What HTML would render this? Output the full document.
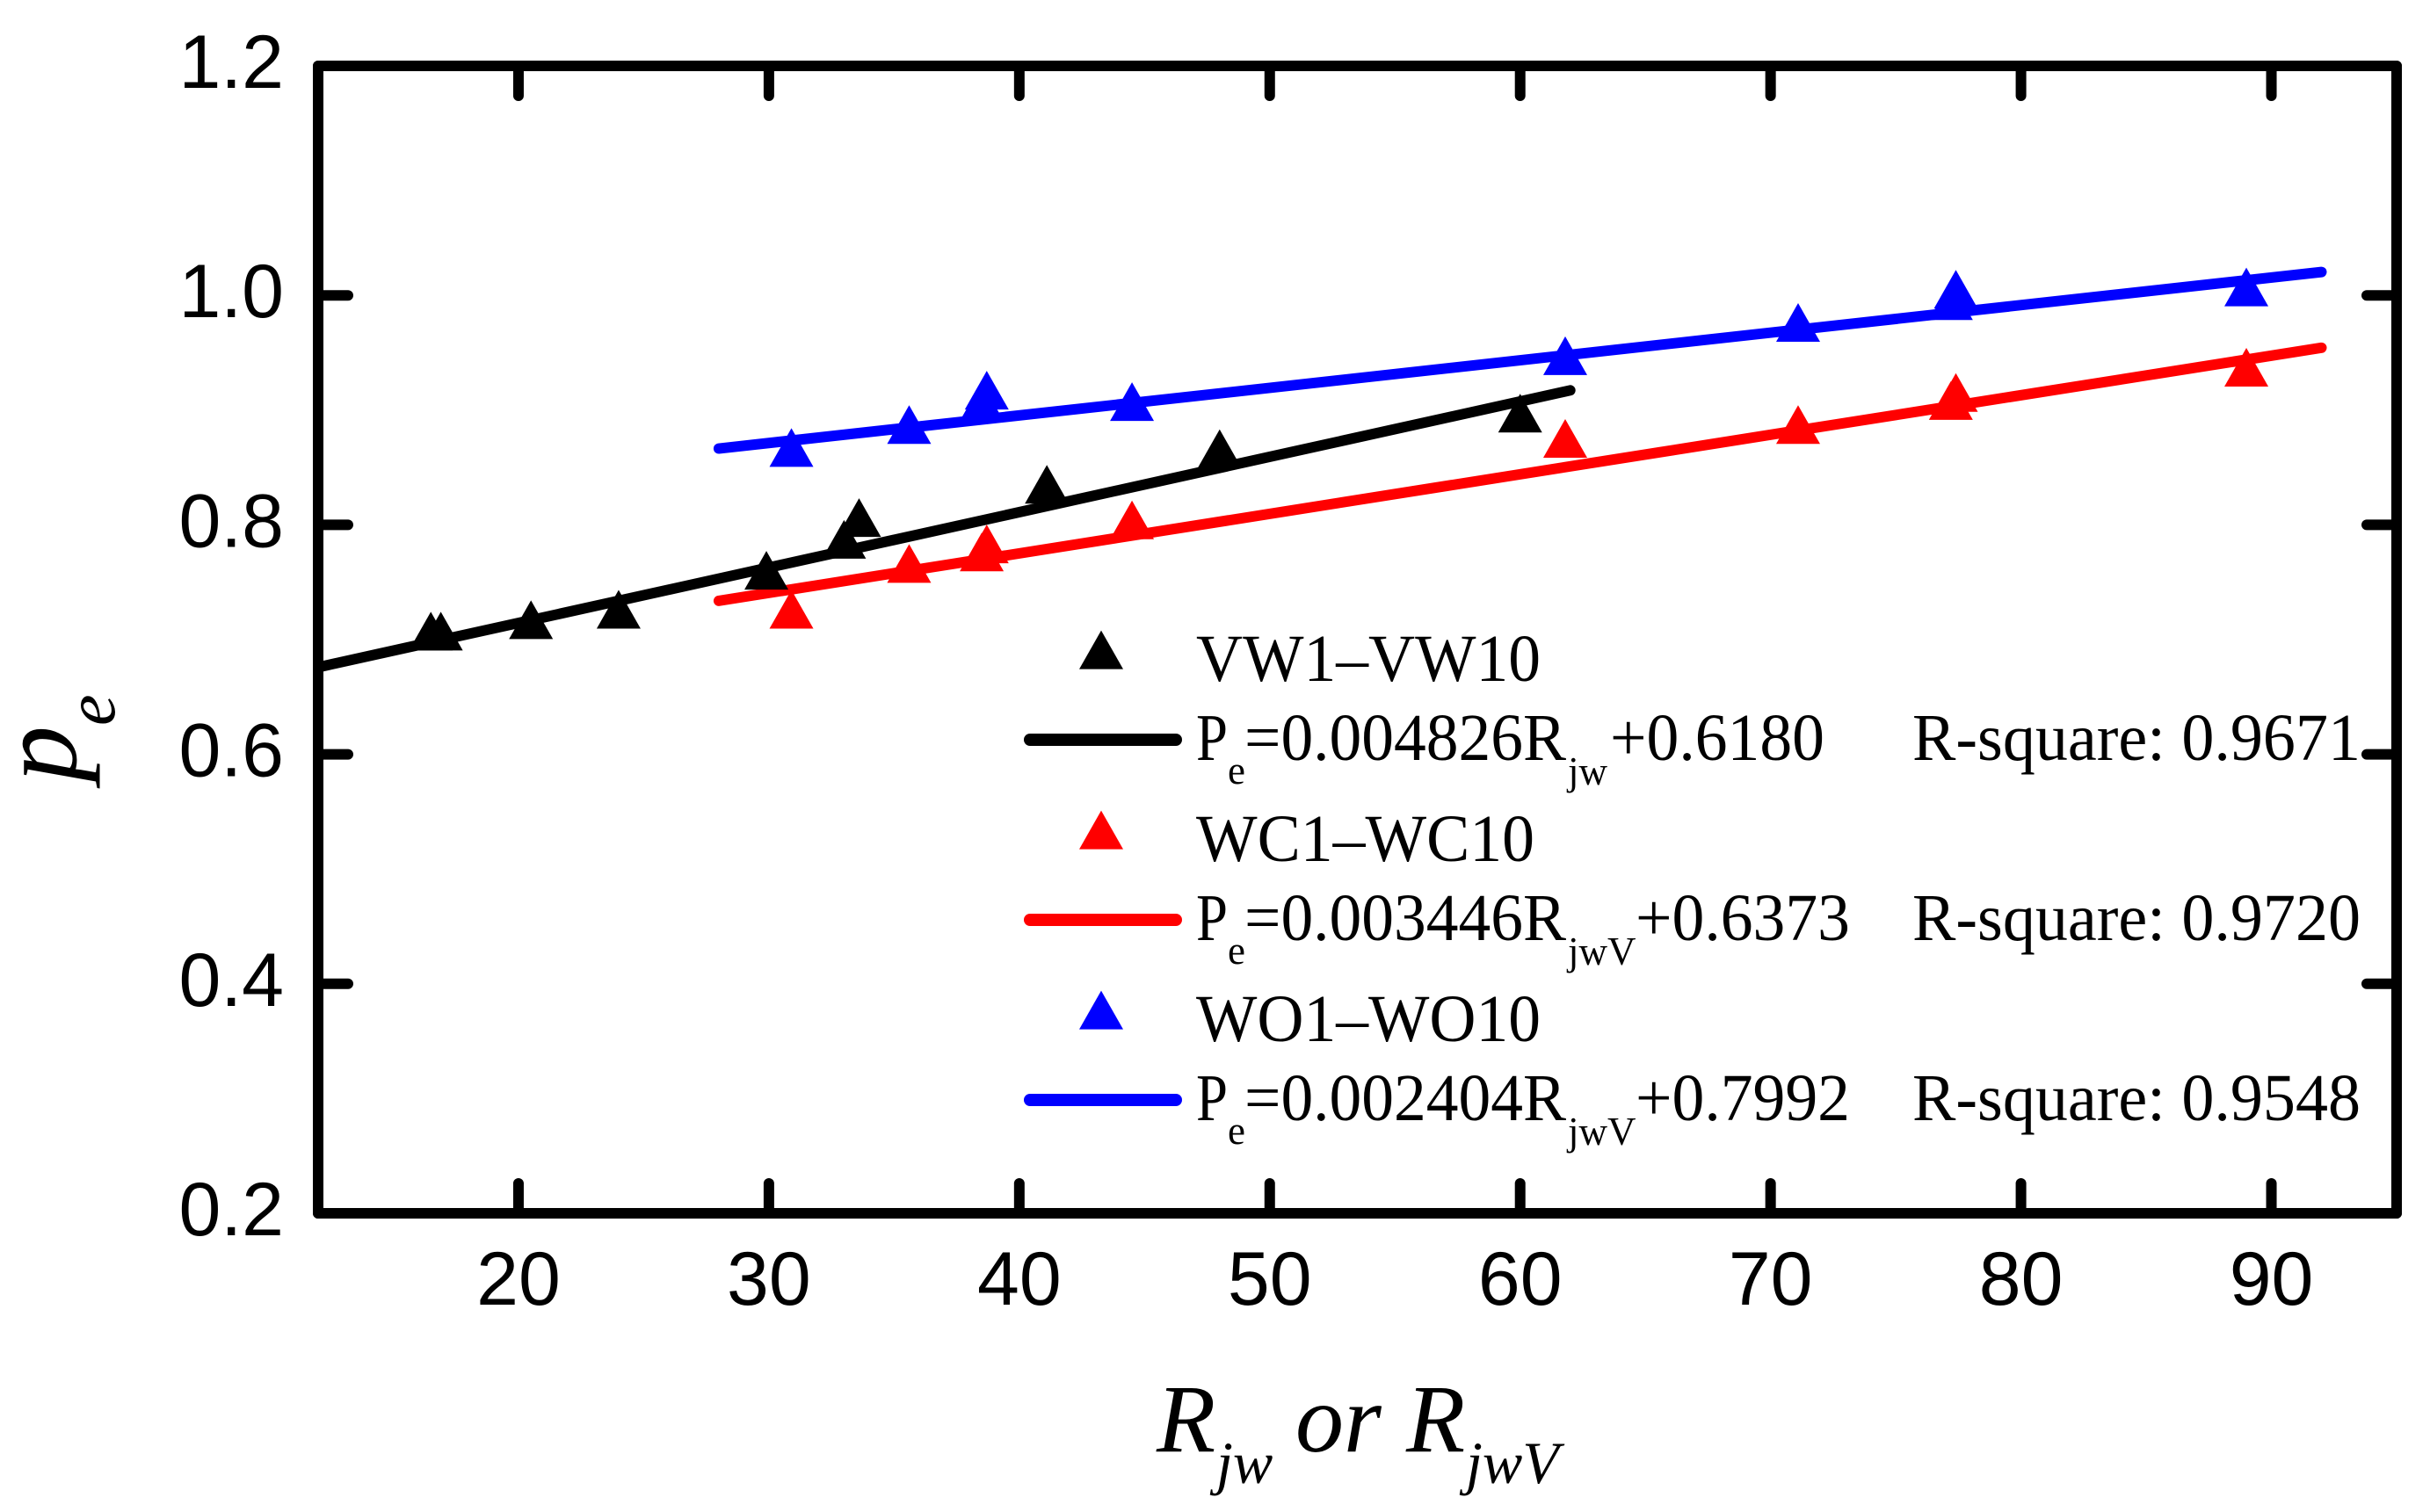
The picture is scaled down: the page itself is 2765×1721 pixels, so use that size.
<!DOCTYPE html>
<html><head><meta charset="utf-8"><style>
html,body{margin:0;padding:0;background:#fff;}
svg{display:block;}
</style></head><body>
<svg id="chart" width="2765" height="1721" viewBox="0 0 2765 1721" xmlns="http://www.w3.org/2000/svg">
<g id="marks"></g>
<rect x="362" y="75" width="2365" height="1306" fill="none" stroke="#000" stroke-width="12" stroke-linejoin="round"/>
<g id="ticks"></g>
<text transform="translate(86,890) rotate(-90)" font-family="Liberation Serif, serif" font-style="italic" font-size="128">p<tspan font-size="80" dy="44">e</tspan></text>
<text font-family="Liberation Serif, serif" font-style="italic" font-size="110" y="1652"><tspan x="1316">R</tspan><tspan font-size="68" x="1384" y="1688">jw</tspan><tspan x="1474" y="1652">or</tspan><tspan x="1600" y="1652">R</tspan><tspan font-size="68" x="1668" y="1688">jwV</tspan></text>
<g id="legend" font-family="Liberation Serif, serif" fill="#000"></g>
</svg>
<script>
const xTicks = [20, 30, 40, 50, 60, 70, 80, 90];
const yTicks = [0.2, 0.4, 0.6, 0.8, 1.0, 1.2];
const yTickLabels = ["0.2", "0.4", "0.6", "0.8", "1.0", "1.2"];
const vwX = [16.5, 16.9, 20.5, 24.0, 29.9, 33.0, 33.6, 41.1, 48.0, 60.0];
const vwY = [0.704, 0.704, 0.714, 0.723, 0.757, 0.784, 0.803, 0.832, 0.863, 0.894];
const wcX = [30.9, 35.6, 38.5, 38.7, 44.5, 61.8, 71.1, 77.2, 77.4, 89.0];
const wcY = [0.723, 0.763, 0.773, 0.780, 0.801, 0.872, 0.884, 0.905, 0.912, 0.934];
const woX = [30.9, 35.6, 38.5, 38.7, 44.5, 61.8, 71.1, 77.2, 77.4, 89.0];
const woY = [0.864, 0.884, 0.904, 0.914, 0.904, 0.944, 0.973, 0.992, 1.002, 1.004];
const fitSlopes = [0.004826, 0.003446, 0.002404];
const fitIntercepts = [0.6180, 0.6373, 0.7992];
const fitStart = [12, 28, 28];
const fitEnd = [62, 92, 92];
const seriesColors = ["#000000", "#ff0000", "#0000ff"];
const seriesNames = ["VW1\u2013VW10", "WC1\u2013WC10", "WO1\u2013WO10"];
const eqCoef = ["=0.004826R", "=0.003446R", "=0.002404R"];
const eqSub = ["jw", "jwV", "jwV"];
const eqConst = ["+0.6180", "+0.6373", "+0.7992"];
const rSquare = ["R-square: 0.9671", "R-square: 0.9720", "R-square: 0.9548"];

const NS = "http://www.w3.org/2000/svg";
const X0 = 362, X1 = 2727, Y0 = 1381, Y1 = 75, XMIN = 12, XMAX = 95, YMIN = 0.2, YMAX = 1.2;
function sx(v){ return X0 + (v - XMIN) / (XMAX - XMIN) * (X1 - X0); }
function sy(v){ return Y0 - (v - YMIN) / (YMAX - YMIN) * (Y0 - Y1); }
function mk(tag, attrs, parent){ const e = document.createElementNS(NS, tag); for (const k in attrs) e.setAttribute(k, attrs[k]); parent.appendChild(e); return e; }
function tri(cx, cy, color, parent){
  const w = 25, h = 44;
  return mk("polygon", {points: `${cx},${cy-h*0.6} ${cx-w},${cy+h*0.4} ${cx+w},${cy+h*0.4}`, fill: color}, parent);
}
const marks = document.getElementById("marks");
const ticks = document.getElementById("ticks");
const legend = document.getElementById("legend");

for (let i = 0; i < 3; i++){
  const l = mk("line", {x1: sx(fitStart[i]), y1: sy(fitIntercepts[i] + fitSlopes[i]*fitStart[i]), x2: sx(fitEnd[i]), y2: sy(fitIntercepts[i] + fitSlopes[i]*fitEnd[i]), stroke: seriesColors[i], "stroke-width": 12, "stroke-linecap": "round"}, marks);
  
  
}
const sets = [[vwX, vwY], [wcX, wcY], [woX, woY]];
for (let s = 0; s < 3; s++){
  for (let j = 0; j < sets[s][0].length; j++){
    const p = tri(sx(sets[s][0][j]), sy(sets[s][1][j]), seriesColors[s], marks);
    
    
  }
}
const TL = 34;
xTicks.forEach((v) => {
  const x = sx(v);
  const a = mk("line", {x1: x, y1: Y0, x2: x, y2: Y0 - TL, stroke: "#000", "stroke-width": 12, "stroke-linecap": "round"}, ticks);
  
  
  const b = mk("line", {x1: x, y1: Y1, x2: x, y2: Y1 + TL, stroke: "#000", "stroke-width": 12, "stroke-linecap": "round"}, ticks);
  
  
  const t = mk("text", {x: x, y: 1485, "text-anchor": "middle", "font-family": "Liberation Sans, sans-serif", "font-size": 86}, ticks);
  t.textContent = String(v);
  
  
});
yTicks.forEach((v, i) => {
  const y = sy(v);
  const a = mk("line", {x1: X0, y1: y, x2: X0 + TL, y2: y, stroke: "#000", "stroke-width": 12, "stroke-linecap": "round"}, ticks);
  
  
  const b = mk("line", {x1: X1, y1: y, x2: X1 - TL, y2: y, stroke: "#000", "stroke-width": 12, "stroke-linecap": "round"}, ticks);
  
  
  const t = mk("text", {x: 323, y: y + 25, "text-anchor": "end", "font-family": "Liberation Sans, sans-serif", "font-size": 86}, ticks);
  t.textContent = yTickLabels[i];
  
  
});
const nameLen = [392, 385, 392];
for (let i = 0; i < 3; i++){
  const base = 744 + i * 205;
  const m = tri(1253, base, seriesColors[i], legend);
  
  
  const n = mk("text", {x: 1361, y: base + 31, "font-size": 76, textLength: nameLen[i], lengthAdjust: "spacingAndGlyphs"}, legend);
  n.textContent = seriesNames[i];
  
  
  const ly = base + 98;
  const ln = mk("line", {x1: 1172, y1: ly, x2: 1338, y2: ly, stroke: seriesColors[i], "stroke-width": 14, "stroke-linecap": "round"}, legend);
  
  
  const tb = ly + 23;
  const g = mk("g", {}, legend);
  
  
  const t1 = mk("text", {x: 1361, y: tb, "font-size": 76, textLength: 36, lengthAdjust: "spacingAndGlyphs"}, g); t1.textContent = "P";
  const t2 = mk("text", {x: 1397, y: tb + 27, "font-size": 45}, g); t2.textContent = "e";
  const t3 = mk("text", {x: 1416, y: tb, "font-size": 76, textLength: 366, lengthAdjust: "spacingAndGlyphs"}, g); t3.textContent = eqCoef[i];
  const t4 = mk("text", {x: 1784, y: tb + 28, "font-size": 45}, g); t4.textContent = eqSub[i];
  const cx = i === 0 ? 1832 : 1861;
  const t5 = mk("text", {x: cx, y: tb, "font-size": 76, textLength: 244, lengthAdjust: "spacingAndGlyphs"}, g); t5.textContent = eqConst[i];
  const r = mk("text", {x: 2176, y: tb, "font-size": 76, textLength: 510, lengthAdjust: "spacingAndGlyphs"}, legend);
  r.textContent = rSquare[i];
  
  
}
</script>
</body></html>
